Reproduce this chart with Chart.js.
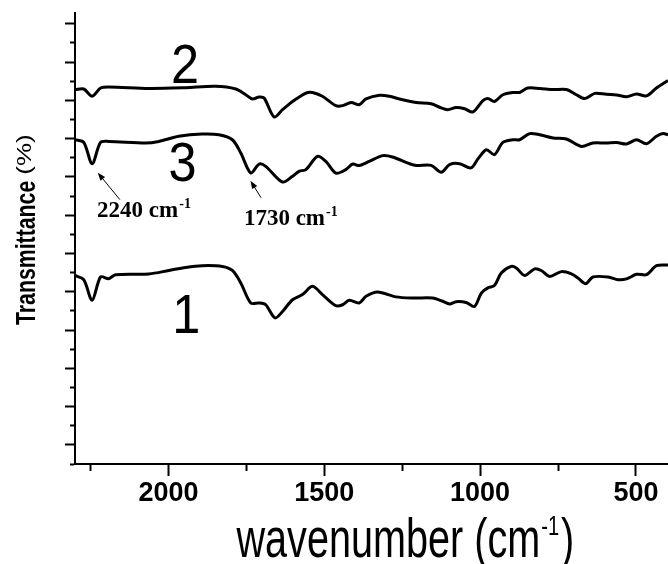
<!DOCTYPE html>
<html>
<head>
<meta charset="utf-8">
<title>FTIR spectra</title>
<script src="https://cdn.jsdelivr.net/npm/chart.js@4"></script>
<style>
  html, body { margin: 0; padding: 0; background: #ffffff; }
  #wrap { width: 668px; height: 564px; position: relative; }
</style>
</head>
<body>
<div id="wrap"><canvas id="spectra"></canvas></div>
<script>
// Spectrum 1 (bottom trace): wavenumber (cm-1) and transmittance (arb. offset units)
const spectrum1Wavenumber = [2300, 2272, 2245, 2218, 2192, 2170, 2063, 1999, 1945, 1892, 1827, 1795, 1768, 1736, 1709, 1688, 1658, 1634, 1602, 1570, 1538, 1506, 1463, 1441, 1420, 1388, 1366, 1329, 1270, 1216, 1152, 1120, 1098, 1077, 1045, 1018, 996, 975, 954, 932, 900, 884, 857, 825, 804, 777, 739, 707, 686, 661, 638, 589, 557, 530, 498, 466, 434, 397];
const spectrum1Transmittance = [9.85, 9.63, 8.55, 9.77, 9.68, 9.89, 9.93, 10.11, 10.27, 10.36, 10.32, 10.11, 9.46, 8.41, 8.41, 8.32, 7.63, 7.97, 8.58, 8.85, 9.28, 8.85, 8.27, 8.32, 8.55, 8.41, 8.76, 8.99, 8.73, 8.67, 8.67, 8.50, 8.36, 8.48, 8.44, 8.23, 8.93, 9.20, 9.32, 9.98, 10.32, 10.24, 9.85, 10.19, 10.11, 9.80, 10.05, 9.93, 9.72, 9.42, 9.77, 9.77, 9.63, 9.67, 9.91, 9.89, 10.36, 10.40];

// Spectrum 2 (top trace)
const spectrum2Wavenumber = [2300, 2272, 2245, 2218, 2192, 2063, 1945, 1849, 1784, 1752, 1731, 1709, 1693, 1661, 1634, 1602, 1559, 1538, 1506, 1463, 1441, 1414, 1388, 1366, 1323, 1291, 1259, 1205, 1157, 1125, 1104, 1077, 1050, 1023, 991, 975, 954, 927, 895, 873, 847, 809, 766, 723, 691, 664, 632, 595, 562, 530, 498, 466, 434, 397];
const spectrum2Transmittance = [19.56, 19.59, 19.21, 19.64, 19.70, 19.62, 19.66, 19.73, 19.59, 19.29, 19.07, 19.17, 19.12, 18.13, 18.51, 18.94, 19.38, 19.41, 19.21, 18.72, 18.72, 18.89, 18.77, 19.07, 19.26, 19.21, 19.07, 18.89, 18.82, 18.60, 18.51, 18.62, 18.56, 18.39, 18.98, 19.09, 18.94, 19.29, 19.41, 19.41, 19.64, 19.62, 19.56, 19.56, 19.29, 19.09, 19.36, 19.31, 19.28, 19.19, 19.33, 19.23, 19.64, 20.04];

// Spectrum 3 (middle trace)
const spectrum3Wavenumber = [2300, 2272, 2245, 2218, 2192, 2074, 2031, 1967, 1892, 1838, 1795, 1768, 1736, 1709, 1688, 1634, 1602, 1581, 1559, 1522, 1495, 1463, 1431, 1409, 1388, 1356, 1313, 1281, 1227, 1205, 1157, 1125, 1098, 1066, 1029, 1007, 980, 954, 927, 895, 873, 841, 809, 766, 723, 675, 638, 595, 562, 530, 498, 466, 434, 413, 397];
const spectrum3Transmittance = [16.94, 16.80, 15.69, 16.80, 16.85, 16.77, 16.85, 17.12, 17.24, 17.20, 16.94, 16.25, 15.20, 15.67, 15.55, 14.73, 15.03, 15.29, 15.38, 16.07, 15.81, 15.20, 15.38, 15.67, 15.59, 15.81, 16.11, 16.04, 15.69, 15.59, 15.60, 15.24, 15.64, 15.69, 15.47, 15.94, 16.42, 16.16, 16.80, 16.94, 16.94, 17.26, 17.20, 17.03, 16.98, 16.59, 16.77, 16.77, 16.80, 16.72, 16.94, 16.73, 17.12, 17.26, 17.20];

// Axis ticks
const xTickValues = [500, 750, 1000, 1250, 1500, 1750, 2000, 2250];
const xLabelledTicks = [500, 1000, 1500, 2000];
const yTickValues = [0, 1, 2, 3, 4, 5, 6, 7, 8, 9, 10, 11, 12, 13, 14, 15, 16, 17, 18, 19, 20, 21, 22, 23];

// Trace numbers and band assignments (data coordinates)
const traceTags = [
  { text: '2', at: [1947, 20.95] },
  { text: '3', at: [1955, 15.81] },
  { text: '1', at: [1943, 7.90] }
];
const bandNotes = [
  { text: '2240 cm', sup: '-1', at: [2229, 12.90], head: [2227, 15.22], tail: [2156, 13.81] },
  { text: '1730 cm', sup: '-1', at: [1758, 12.50], head: [1737, 14.80], tail: [1703, 13.91] }
];

function toPoints(xs, ys) {
  return xs.map((v, i) => ({ x: v, y: ys[i] }));
}

function traceDataset(xs, ys) {
  return {
    data: toPoints(xs, ys),
    borderColor: '#000000',
    borderWidth: 3,
    pointRadius: 0,
    tension: 0.3,
    fill: false
  };
}

// Draw text squeezed or stretched along its run direction
function squeezedText(ctx, str, font, sx, align) {
  ctx.save();
  ctx.font = font;
  ctx.scale(sx, 1);
  ctx.textAlign = align || 'left';
  ctx.textBaseline = 'alphabetic';
  ctx.fillStyle = '#000000';
  ctx.fillText(str, 0, 0);
  const w = ctx.measureText(str).width * sx;
  ctx.restore();
  return w;
}

const annotationPlugin = {
  id: 'spectraAnnotations',
  afterDraw(chart) {
    const ctx = chart.ctx;
    const xs = chart.scales.x;
    const ys = chart.scales.y;
    const px = v => xs.getPixelForValue(v);
    const py = v => ys.getPixelForValue(v);

    // trace numbers
    traceTags.forEach(t => {
      ctx.save();
      ctx.translate(px(t.at[0]), py(t.at[1]) + 20);
      squeezedText(ctx, t.text, '56px "Liberation Sans", Arial, sans-serif', 0.9, 'center');
      ctx.restore();
    });

    // band assignments with arrows
    bandNotes.forEach(n => {
      ctx.save();
      ctx.translate(px(n.at[0]), py(n.at[1]));
      const w = squeezedText(ctx, n.text, 'bold 23px "Liberation Serif", "Times New Roman", serif', 1, 'left');
      ctx.translate(w + 1, -9);
      squeezedText(ctx, n.sup, 'bold 14px "Liberation Serif", "Times New Roman", serif', 1, 'left');
      ctx.restore();

      const hx = px(n.head[0]), hy = py(n.head[1]);
      const tx = px(n.tail[0]), ty = py(n.tail[1]);
      const ang = Math.atan2(hy - ty, hx - tx);
      ctx.save();
      ctx.strokeStyle = '#000000';
      ctx.fillStyle = '#000000';
      ctx.lineWidth = 1;
      ctx.beginPath();
      ctx.moveTo(tx, ty);
      ctx.lineTo(hx - 6 * Math.cos(ang), hy - 6 * Math.sin(ang));
      ctx.stroke();
      ctx.beginPath();
      ctx.moveTo(hx, hy);
      ctx.lineTo(hx - 8 * Math.cos(ang) + 3 * Math.sin(ang), hy - 8 * Math.sin(ang) - 3 * Math.cos(ang));
      ctx.lineTo(hx - 8 * Math.cos(ang) - 3 * Math.sin(ang), hy - 8 * Math.sin(ang) + 3 * Math.cos(ang));
      ctx.closePath();
      ctx.fill();
      ctx.restore();
    });

    // x-axis title: wavenumber (cm^-1)
    const area = chart.chartArea;
    ctx.save();
    ctx.translate(area.left + 161.5, chart.height - 7);
    let w = squeezedText(ctx, 'wavenumber (cm', '55px "Liberation Sans", Arial, sans-serif', 0.72, 'left');
    ctx.translate(w + 1, -22);
    const ws = squeezedText(ctx, '-1', '28px "Liberation Sans", Arial, sans-serif', 0.72, 'left');
    ctx.translate(ws + 2, 22);
    squeezedText(ctx, ')', '55px "Liberation Sans", Arial, sans-serif', 0.72, 'left');
    ctx.restore();

    // y-axis title: Transmittance (%)
    ctx.save();
    ctx.translate(35, area.bottom - 139);
    ctx.rotate(-Math.PI / 2);
    const wt = squeezedText(ctx, 'Transmittance', 'bold 28px "Liberation Sans", Arial, sans-serif', 0.76, 'left');
    ctx.translate(wt + 6, -4);
    squeezedText(ctx, '(%)', '20px "Liberation Sans", Arial, sans-serif', 1.3, 'left');
    ctx.restore();
  }
};

new Chart(document.getElementById('spectra'), {
  type: 'line',
  data: {
    datasets: [
      traceDataset(spectrum1Wavenumber, spectrum1Transmittance),
      traceDataset(spectrum2Wavenumber, spectrum2Transmittance),
      traceDataset(spectrum3Wavenumber, spectrum3Transmittance)
    ]
  },
  options: {
    responsive: true,
    maintainAspectRatio: false,
    animation: false,
    layout: { padding: { top: 13, right: 0, left: 0, bottom: 0 } },
    plugins: { legend: { display: false }, tooltip: { enabled: false } },
    scales: {
      x: {
        type: 'linear',
        reverse: true,
        min: 397,
        max: 2300,
        afterBuildTicks: axis => { axis.ticks = xTickValues.map(v => ({ value: v })); },
        afterFit: axis => { axis.height = 100; },
        border: { display: true, color: '#000000', width: 2 },
        grid: {
          drawOnChartArea: false,
          drawTicks: true,
          tickLength: 12,
          tickWidth: 2,
          tickColor: '#000000',
          tickBorderDash: c => (c.tick && xLabelledTicks.includes(c.tick.value)) ? [] : [6, 30]
        },
        ticks: {
          autoSkip: false,
          maxRotation: 0,
          padding: 1,
          color: '#000000',
          font: { family: '"Liberation Sans", Arial, sans-serif', size: 27, weight: 'bold' },
          callback: v => xLabelledTicks.includes(v) ? String(v) : ''
        }
      },
      y: {
        type: 'linear',
        min: 0,
        max: 23.56,
        afterBuildTicks: axis => { axis.ticks = yTickValues.map(v => ({ value: v })); },
        afterFit: axis => { axis.width = 75; },
        border: { display: true, color: '#000000', width: 2 },
        grid: {
          drawOnChartArea: false,
          drawTicks: true,
          tickLength: 10,
          tickWidth: 2,
          tickColor: '#000000',
          tickBorderDash: c => (c.tick && c.tick.value % 2 === 1) ? [] : [5, 5],
          tickBorderDashOffset: c => (c.tick && c.tick.value % 2 === 1) ? 0 : 5
        },
        ticks: { display: false }
      }
    }
  },
  plugins: [annotationPlugin]
});
</script>
</body>
</html>
